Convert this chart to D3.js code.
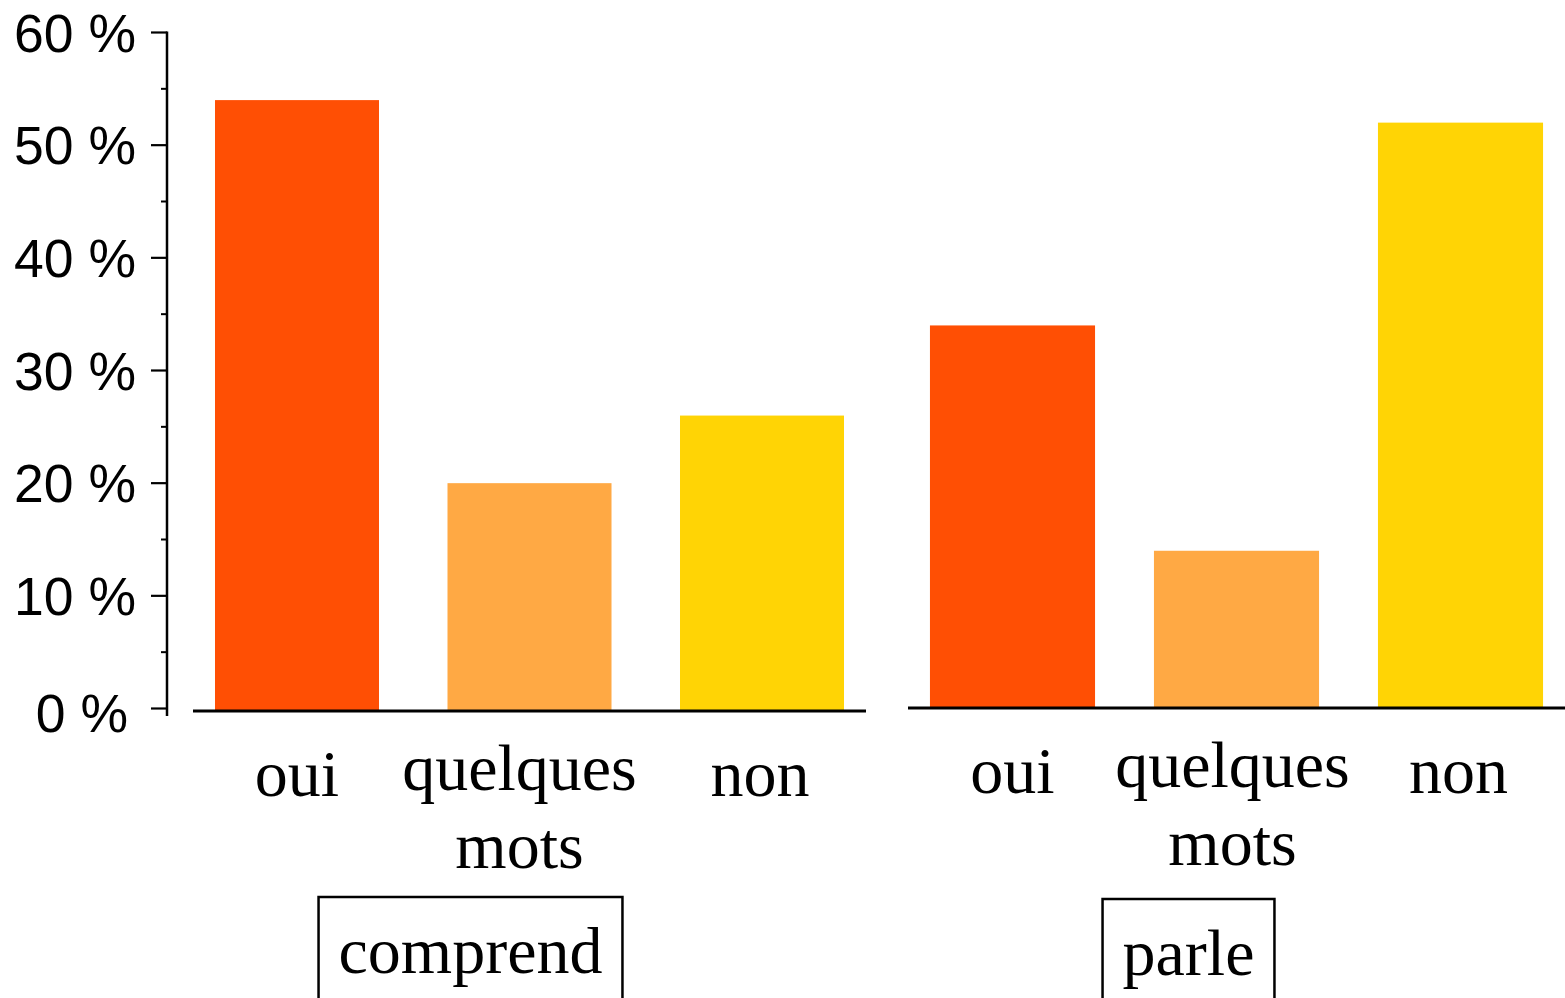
<!DOCTYPE html>
<html><head><meta charset="utf-8">
<script src="https://cdn.jsdelivr.net/npm/d3@7"></script>
<style>body{margin:0;background:#fff}svg{display:block}</style>
</head><body>
<svg id="c" width="1565" height="998"></svg>
<script>
const categories = ["oui", "quelques mots", "non"];
const groups = ["comprend", "parle"];
const comprendValues = [54, 20, 26];
const parleValues = [34, 14, 52];
const colors = ["#FF4F04", "#FFA944", "#FFD405"];
const yTicks = [0, 10, 20, 30, 40, 50, 60];
const yMinorTicks = [5, 15, 25, 35, 45, 55];

const svg = d3.select("#c");
const y = d3.scaleLinear().domain([0, 60]).range([708.5, 32.5]);

// y axis
const axisX = 167;
const yAxis = svg.append("g").attr("transform", `translate(${axisX},0)`);
yAxis.append("line").attr("x1", 0).attr("x2", 0).attr("y1", y(60) - 1).attr("y2", 716)
  .attr("stroke", "#000").attr("stroke-width", 2.5);
yAxis.selectAll(".maj").data(yTicks).join("line")
  .attr("x1", -16).attr("x2", 0).attr("y1", d => y(d)).attr("y2", d => y(d))
  .attr("stroke", "#000").attr("stroke-width", 2.2);
yAxis.selectAll(".min").data(yMinorTicks).join("line")
  .attr("x1", -6).attr("x2", 0).attr("y1", d => y(d)).attr("y2", d => y(d))
  .attr("stroke", "#000").attr("stroke-width", 2);
yAxis.selectAll("text").data(yTicks).join("text")
  .attr("x", d => d === 0 ? -39 : -31)
  .attr("y", d => y(d) + (d === 0 ? 23 : 19))
  .attr("text-anchor", "end")
  .attr("font-family", "Liberation Sans, Arial, sans-serif")
  .attr("font-size", 53.5)
  .text(d => d + " %");

const panels = [
  {name: groups[0], values: comprendValues, range: [193, 866], pi: 0.2946, po: 0.0946, base: 711, boxShift: -59, boxTop: 897, midShift: -10},
  {name: groups[1], values: parleValues, range: [908, 1565], pi: 0.263, po: 0.098, base: 708, boxShift: -48, boxTop: 899, midShift: -4}
];

panels.forEach((p) => {
  const x = d3.scaleBand().domain(categories).range(p.range).paddingInner(p.pi).paddingOuter(p.po);
  const g = svg.append("g");
  g.selectAll("rect").data(categories).join("rect")
    .attr("x", d => x(d))
    .attr("width", x.bandwidth())
    .attr("y", (d, i) => y(p.values[i]))
    .attr("height", (d, i) => p.base - y(p.values[i]))
    .attr("fill", (d, i) => colors[i]);
  g.append("line").attr("x1", p.range[0]).attr("x2", p.range[1])
    .attr("y1", p.base).attr("y2", p.base).attr("stroke", "#000").attr("stroke-width", 3);
  // category labels
  categories.forEach((c, i) => {
    const words = c.split(" ");
    const cxl = x(c) + x.bandwidth() / 2 + (i === 1 ? p.midShift : (i === 2 ? -2 : 0));
    const t = g.append("text")
      .attr("text-anchor", "middle")
      .attr("font-family", "Liberation Serif, Times New Roman, serif")
      .attr("font-size", 66)
      .attr("x", cxl);
    if (words.length === 1) {
      t.attr("y", p.base + 85).text(c);
    } else {
      words.forEach((w, k) => {
        t.append("tspan").attr("x", cxl)
          .attr("y", p.base + 79 + k * 78).text(w);
      });
    }
  });
  // group label box
  const cx = x(categories[1]) + x.bandwidth() / 2 + p.boxShift;
  const gl = g.append("text")
    .attr("text-anchor", "middle")
    .attr("font-family", "Liberation Serif, Times New Roman, serif")
    .attr("font-size", 66)
    .attr("x", cx).attr("y", p.boxTop + 76)
    .text(p.name);
  const bb = gl.node().getBBox();
  g.insert("rect", "text")
    .attr("x", bb.x - 20).attr("y", p.boxTop)
    .attr("width", bb.width + 40).attr("height", 140)
    .attr("fill", "none").attr("stroke", "#000").attr("stroke-width", 2.5);
});
</script>
</body></html>
